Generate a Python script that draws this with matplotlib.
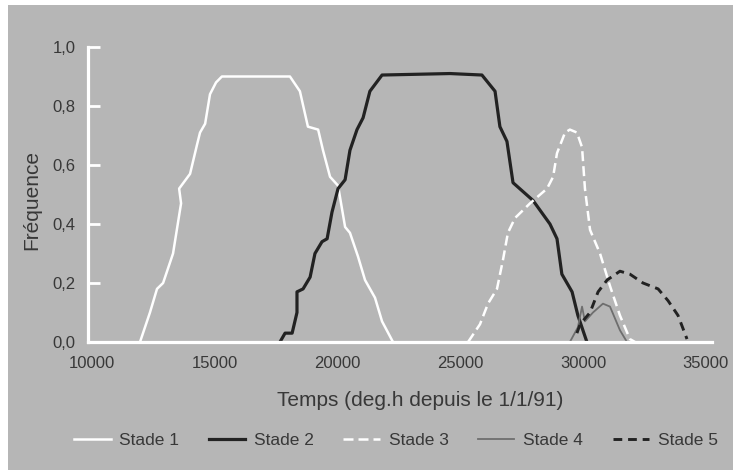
import matplotlib
matplotlib.use('Agg')
import matplotlib.pyplot as plt
from matplotlib.patches import Rectangle

# stade curves
s1_x = [11958, 12363, 12650, 12898, 13303, 13630, 13551, 13996, 14283, 14402, 14610, 14808,
        15055, 15292, 18063, 18469, 18795, 19211, 19409, 19696, 20022, 20309, 20507, 20834,
        21121, 21527, 21814, 22259]
s1_y = [0.0, 0.10, 0.18, 0.20, 0.30, 0.47, 0.52, 0.57, 0.67, 0.71, 0.74, 0.84,
        0.88, 0.90, 0.90, 0.85, 0.73, 0.72, 0.65, 0.56, 0.53, 0.39, 0.37, 0.29,
        0.21, 0.15, 0.07, 0.0]

s2_x = [17657, 17865, 18152, 18350, 18350, 18598, 18885, 19082, 19369, 19577, 19775, 20022,
        20309, 20507, 20794, 21042, 21319, 21814, 24584, 25881, 26415, 26613, 26900, 27147,
        27959, 28651, 28938, 29136, 29552, 29789, 30156]
s2_y = [0.0, 0.03, 0.03, 0.10, 0.17, 0.18, 0.22, 0.30, 0.34, 0.35, 0.44, 0.52,
        0.55, 0.65, 0.72, 0.76, 0.85, 0.905, 0.91, 0.905, 0.85, 0.73, 0.68, 0.54,
        0.48, 0.40, 0.35, 0.23, 0.17, 0.09, 0.0]

s3_x = [25317, 25801, 26128, 26494, 26742, 26939, 27226, 27840, 28533, 28780, 28938, 29265,
        29463, 29750, 29958, 30076, 30284, 30690, 31096, 31501, 31907, 32115]
s3_y = [0.0, 0.06, 0.13, 0.18, 0.28, 0.37, 0.42, 0.47, 0.52, 0.56, 0.64, 0.71,
        0.72, 0.71, 0.66, 0.52, 0.38, 0.30, 0.19, 0.09, 0.01, 0.0]

s4_x = [29463, 29789, 29958, 30076, 30403, 30809, 31096, 31501, 31788]
s4_y = [0.0, 0.05, 0.12, 0.07, 0.10, 0.13, 0.12, 0.04, 0.0]

s5_x = [29750, 29878, 30284, 30611, 30977, 31501, 31907, 32441, 33055, 33461, 33866, 34232]
s5_y = [0.03, 0.06, 0.10, 0.17, 0.21, 0.24, 0.23, 0.20, 0.18, 0.14, 0.09, 0.01]

x_ticks = [10000, 15000, 20000, 25000, 30000, 35000]
y_ticks = [0.0, 0.2, 0.4, 0.6, 0.8, 1.0]
y_tick_labels = ['0,0', '0,2', '0,4', '0,6', '0,8', '1,0']

bg = '#b6b6b6'
txt = '#383838'
plt.rcParams['font.family'] = ['Liberation Sans', 'DejaVu Sans']

fig = plt.figure(figsize=(7.33, 4.70), dpi=100, facecolor='white')
fig.patches.append(Rectangle((8 / 733, 0), 1, 1 - 5 / 470, transform=fig.transFigure,
                             facecolor=bg, edgecolor='none', zorder=-10))
ax = fig.add_axes([88 / 733, 1 - 342 / 470, (712 - 88) / 733, (342 - 47) / 470])
ax.set_facecolor(bg)

l1, = ax.plot(s1_x, s1_y, color='white', lw=1.8, label='Stade 1')
l2, = ax.plot(s2_x, s2_y, color='#222222', lw=2.3, label='Stade 2')
l3, = ax.plot(s3_x, s3_y, color='white', lw=1.8, ls=(0, (4, 2)), label='Stade 3')
l4, = ax.plot(s4_x, s4_y, color='#6e6e6e', lw=1.3, label='Stade 4')
l5, = ax.plot(s5_x, s5_y, color='#222222', lw=2.1, ls=(0, (3, 2)), label='Stade 5')

ax.set_xlim(9840, 35250)
ax.set_ylim(0, 1.0)
for s in ['top', 'right']:
    ax.spines[s].set_visible(False)
for s in ['left', 'bottom']:
    ax.spines[s].set_color('white')
    ax.spines[s].set_linewidth(2.3)

ax.set_xticks(x_ticks)
ax.set_yticks(y_ticks)
ax.set_yticklabels(y_tick_labels)
ax.tick_params(axis='x', length=0, pad=10, labelsize=12, labelcolor=txt)
ax.tick_params(axis='y', direction='in', length=8.5, width=2, color='white', pad=9,
               labelsize=12, labelcolor=txt)

fig.text(420 / 733, 1 - 400 / 470, 'Temps (deg.h depuis le 1/1/91)', ha='center', va='center',
         fontsize=15, color=txt)
fig.text(32 / 733, 1 - 200 / 470, 'Fréquence', rotation=90, ha='center', va='center',
         fontsize=15, color=txt)

fig.legend(handles=[l1, l2, l3, l4, l5], loc='center', bbox_to_anchor=(396 / 733, 1 - 440 / 470),
           ncol=5, frameon=False, fontsize=12.5, handlelength=2.1, columnspacing=1.7,
           handletextpad=0.5, labelcolor=txt, borderpad=0, borderaxespad=0)

fig.savefig('out.png', dpi=100, facecolor=fig.get_facecolor())
